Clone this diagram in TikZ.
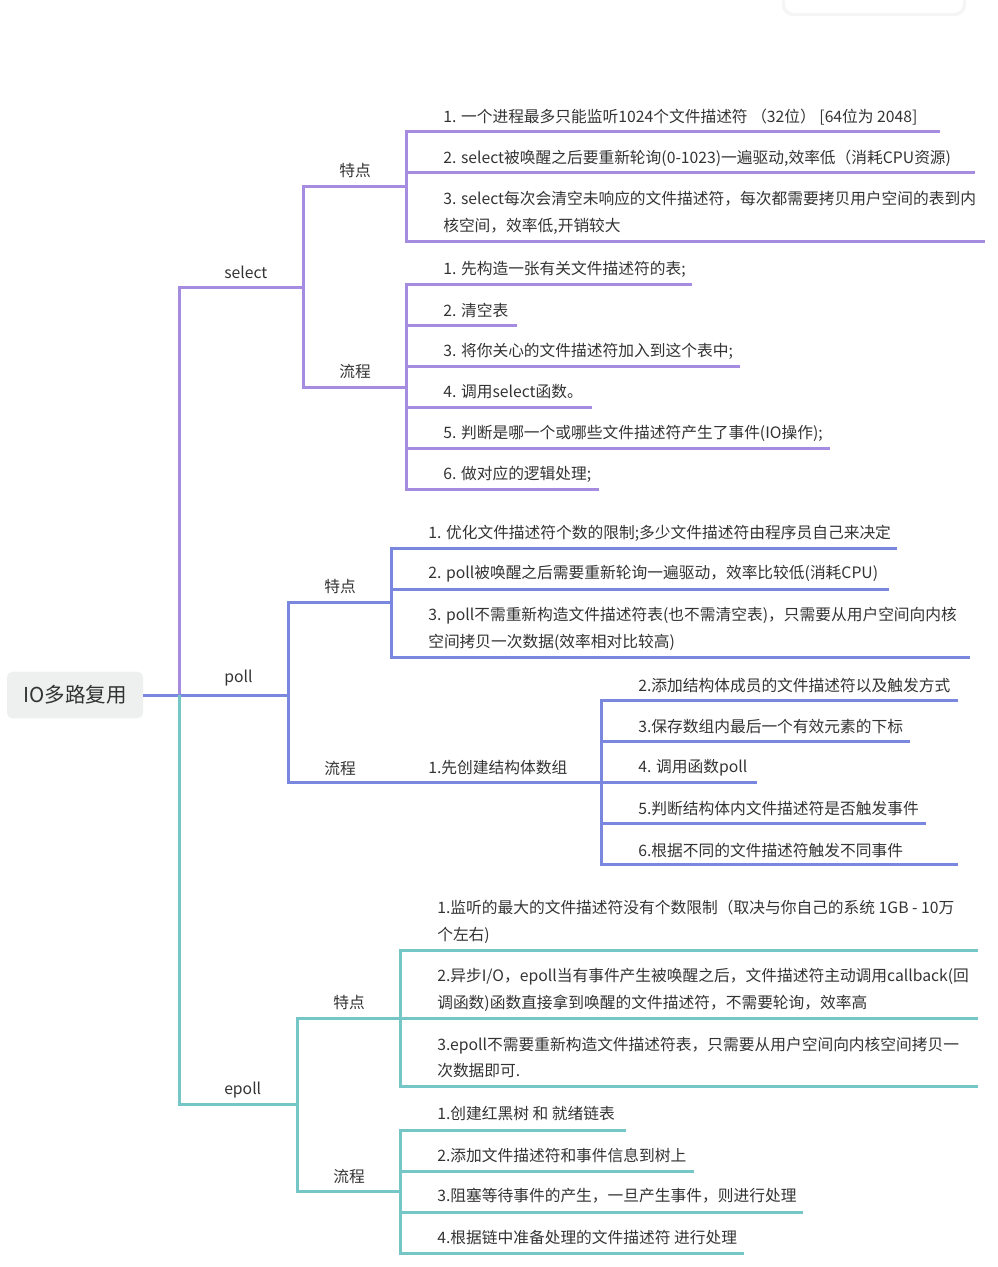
\documentclass[tikz,border=0pt]{standalone}
\usepackage{fontspec}
\setmainfont{Noto Sans CJK SC}
\definecolor{selc}{RGB}{165,140,225}
\definecolor{polc}{RGB}{122,135,222}
\definecolor{eplc}{RGB}{117,198,198}
\definecolor{rootgray}{RGB}{238,240,240}
\definecolor{ink}{RGB}{51,51,51}

\begin{document}
\begin{tikzpicture}[x=0.75pt,y=-0.75pt,
  sel/.style={draw=selc,line width=2.25pt},
  pol/.style={draw=polc,line width=2.25pt},
  epl/.style={draw=eplc,line width=2.25pt},
  txt/.style={anchor=west,inner sep=0pt,text=ink,align=left,font=\fontsize{11.8}{20}\selectfont},
  rootbox/.style={fill=rootgray,rounded corners=4pt,minimum width=102pt,minimum height=35pt,text=ink,font=\fontsize{15.4}{18}\selectfont}]
\useasboundingbox (0,0) rectangle (997,1267);
\fill[black!4,rounded corners=8pt] (782,-10) rectangle (966,16);
\fill[white,rounded corners=7pt] (785,-10) rectangle (963,13);

\node[rootbox] (io) at (75,695) {IO多路复用};
\coordinate (io-e) at (179,695);
\draw[pol] (io.east) -- (io-e);

% select
\node[txt] (sel) at (224,272) {select};
\coordinate (sel-e) at (303,287);
\draw[sel] (io-e) |- (sel-e);
\node[txt] (selA) at (339,171) {特点};
\coordinate (selA-e) at (406,186);
\node[txt] (selB) at (339,372) {流程};
\coordinate (selB-e) at (406,387);
\draw[sel] (sel-e) |- (selA-e);
\draw[sel] (sel-e) |- (selB-e);
\node[txt] (selA1) at (443,117) {1. 一个进程最多只能监听1024个文件描述符 （32位） [64位为 2048]};
\coordinate (selA1-e) at (940,131);
\node[txt] (selA2) at (443,158) {2. select被唤醒之后要重新轮询(0-1023)一遍驱动,效率低（消耗CPU资源)};
\coordinate (selA2-e) at (975,172);
\node[txt] (selA3) at (443,212.5) {3. select每次会清空未响应的文件描述符，每次都需要拷贝用户空间的表到内\\核空间，效率低,开销较大};
\coordinate (selA3-e) at (985,241);
\foreach \i in {1,2,3}
  \draw[sel] (selA-e) |- (selA\i-e);
\foreach \i/\ex/\t in {1/692/{先构造一张有关文件描述符的表;},2/517/{清空表},
    3/740/{将你关心的文件描述符加入到这个表中;},4/592/{调用select函数。},
    5/830/{判断是哪一个或哪些文件描述符产生了事件(IO操作);},6/599/{做对应的逻辑处理;}}{
  \node[txt] (selB\i) at (443,228+41*\i) {\i. \t};
  \coordinate (selB\i-e) at (\ex,243+41*\i);
  \draw[sel] (selB-e) |- (selB\i-e);
}

% poll
\node[txt] (pol) at (224,678) {poll};
\coordinate (pol-e) at (288,695);
\draw[pol] (io-e) -- (pol-e);
\node[txt] (polA) at (324,587) {特点};
\coordinate (polA-e) at (391,602);
\node[txt] (polB) at (324,768) {流程};
\coordinate (polB-e) at (391,782);
\draw[pol] (pol-e) |- (polA-e);
\draw[pol] (pol-e) |- (polB-e);
\node[txt] (polA1) at (428,533) {1. 优化文件描述符个数的限制;多少文件描述符由程序员自己来决定};
\coordinate (polA1-e) at (897,548);
\node[txt] (polA2) at (428,574) {2. poll被唤醒之后需要重新轮询一遍驱动，效率比较低(消耗CPU)};
\coordinate (polA2-e) at (889,589);
\node[txt] (polA3) at (428,629) {3. poll不需重新构造文件描述符表(也不需清空表)，只需要从用户空间向内核\\空间拷贝一次数据(效率相对比较高)};
\coordinate (polA3-e) at (970,657);
\foreach \i in {1,2,3}
  \draw[pol] (polA-e) |- (polA\i-e);
\node[txt] (polB1) at (428,768) {1.先创建结构体数组};
\coordinate (polB1-e) at (601,782);
\draw[pol] (polB-e) -- (polB1-e);
\foreach \i/\ex/\t in {2/958/{2.添加结构体成员的文件描述符以及触发方式},3/910/{3.保存数组内最后一个有效元素的下标},
    4/757/{4. 调用函数poll},5/926/{5.判断结构体内文件描述符是否触发事件},6/958/{6.根据不同的文件描述符触发不同事件}}{
  \node[txt] (polC\i) at (638,604+41*\i) {\t};
  \coordinate (polC\i-e) at (\ex,618+41*\i);
  \draw[pol] (polB1-e) |- (polC\i-e);
}

% epoll
\node[txt] (epl) at (224,1090) {epoll};
\coordinate (epl-e) at (297,1104);
\draw[epl] (io-e) |- (epl-e);
\node[txt] (eplA) at (333,1003) {特点};
\coordinate (eplA-e) at (400,1018);
\node[txt] (eplB) at (333,1176) {流程};
\coordinate (eplB-e) at (400,1191);
\draw[epl] (epl-e) |- (eplA-e);
\draw[epl] (epl-e) |- (eplB-e);
\node[txt] (eplA1) at (437,922) {1.监听的最大的文件描述符没有个数限制（取决与你自己的系统 1GB - 10万\\个左右)};
\coordinate (eplA1-e) at (978,950);
\node[txt] (eplA2) at (437,990) {2.异步I/O，epoll当有事件产生被唤醒之后，文件描述符主动调用callback(回\\调函数)函数直接拿到唤醒的文件描述符，不需要轮询，效率高};
\coordinate (eplA2-e) at (978,1018);
\node[txt] (eplA3) at (437,1057.5) {3.epoll不需要重新构造文件描述符表，只需要从用户空间向内核空间拷贝一\\次数据即可.};
\coordinate (eplA3-e) at (978,1086);
\foreach \i in {1,2,3}
  \draw[epl] (eplA-e) |- (eplA\i-e);
\foreach \i/\ex/\t in {1/626/{1.创建红黑树 和 就绪链表},2/694/{2.添加文件描述符和事件信息到树上},
    3/803/{3.阻塞等待事件的产生，一旦产生事件，则进行处理},4/744/{4.根据链中准备处理的文件描述符 进行处理}}{
  \node[txt] (eplB\i) at (437,1073+41*\i) {\t};
  \coordinate (eplB\i-e) at (\ex,1089+41*\i);
  \draw[epl] (eplB-e) |- (eplB\i-e);
}
\end{tikzpicture}
\end{document}
